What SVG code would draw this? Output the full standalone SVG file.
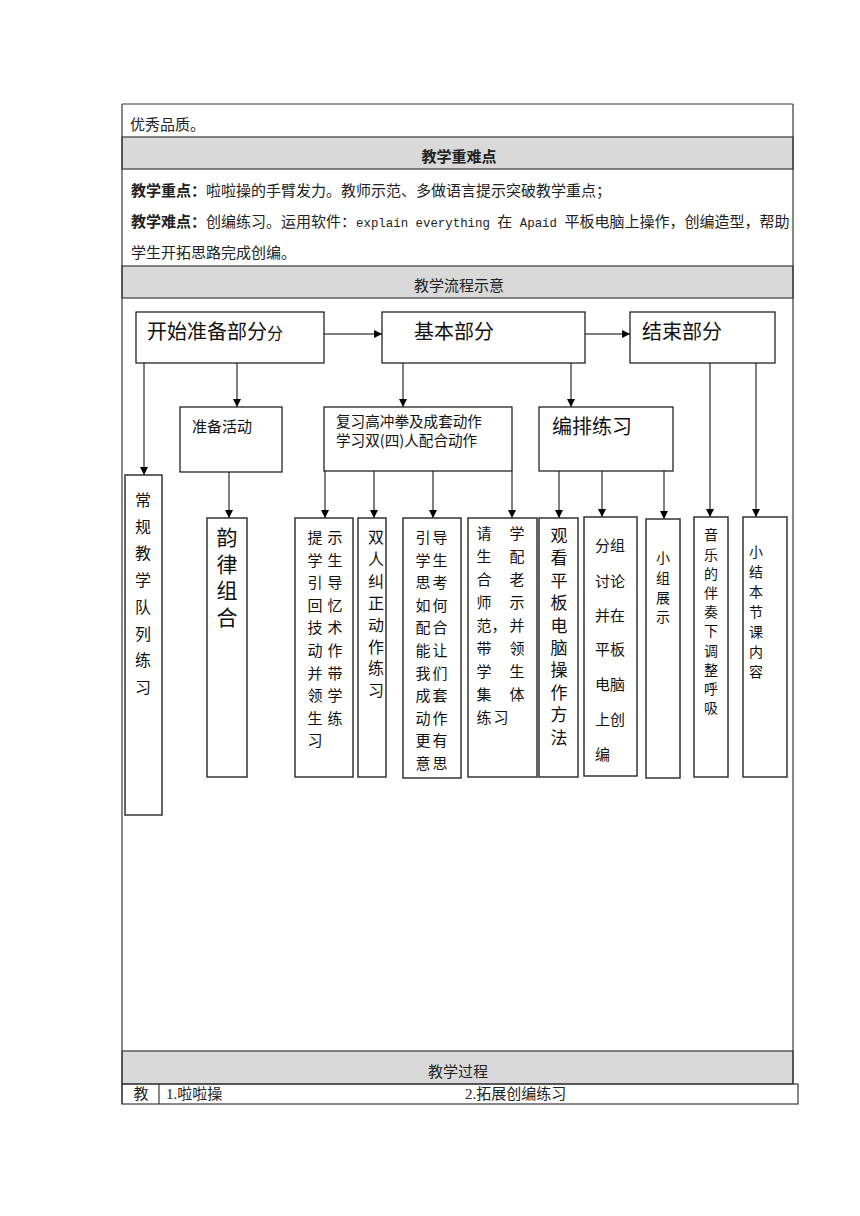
<svg xmlns="http://www.w3.org/2000/svg" width="860" height="1216" viewBox="0 0 860 1216">
<defs>
<marker id="ah" viewBox="0 0 10 10" refX="10" refY="5" markerWidth="8" markerHeight="9" markerUnits="userSpaceOnUse" orient="auto">
<path d="M0,0 L10,5 L0,10 z" fill="#000"/>
</marker>
<style>
.grid{stroke:#3a3a3a;stroke-width:1.2;fill:none}
.band{fill:#d9d9d9;stroke:#3a3a3a;stroke-width:1.2}
.tb{font-family:"Liberation Serif","Noto Sans CJK SC",serif;font-size:15px;fill:#222}
.mono{font-family:"Liberation Mono","Noto Sans CJK SC",monospace;font-size:12.4px}
.cn{font-family:"Noto Sans CJK SC",sans-serif;fill:#111}
.vt{font-family:"Noto Sans CJK SC",sans-serif;fill:#111;writing-mode:vertical-rl}
.box{fill:#fff;stroke:#111;stroke-width:1.2}
.vbox{fill:#fff;stroke:#333;stroke-width:1.5}
.conn{stroke:#000;stroke-width:1;fill:none;marker-end:url(#ah)}
.mid{text-anchor:middle}
</style>
</defs>
<rect width="860" height="1216" fill="#fff"/>

<g id="table">
<rect class="band" x="122" y="137" width="671" height="32"/>
<rect class="band" x="122" y="266" width="671" height="32"/>
<rect class="band" x="122" y="1051" width="671" height="33"/>
<line class="grid" x1="122" y1="104" x2="793" y2="104"/>
<line class="grid" x1="122" y1="104" x2="122" y2="1104"/>
<line class="grid" x1="793" y1="104" x2="793" y2="1084"/>
<rect class="grid" x="122" y="1084" width="676" height="20"/>
<line class="grid" x1="159" y1="1084" x2="159" y2="1104"/>
<text class="tb" x="130" y="130">优秀品质。</text>
<text class="tb mid" x="459" y="162" font-weight="bold">教学重难点</text>
<text class="tb" x="131" y="196"><tspan font-weight="bold">教学重点：</tspan>啦啦操的手臂发力。教师示范、多做语言提示突破教学重点；</text>
<text class="tb" x="131" y="227"><tspan font-weight="bold">教学难点：</tspan>创编练习。运用软件：<tspan class="mono">explain everything </tspan>在<tspan class="mono"> Apaid </tspan>平板电脑上操作，创编造型，帮助</text>
<text class="tb" x="131" y="258">学生开拓思路完成创编。</text>
<text class="tb mid" x="459" y="291">教学流程示意</text>
<text class="tb mid" x="458" y="1077">教学过程</text>
<text class="tb mid" x="141" y="1099">教</text>
<text class="tb" x="166" y="1099">1.啦啦操</text>
<text class="tb" x="465" y="1099">2.拓展创编练习</text>
</g>

<g id="connectors">
<path class="conn" d="M324,334 H382"/>
<path class="conn" d="M585,334 H630"/>
<path class="conn" d="M144,363 V475"/>
<path class="conn" d="M237,363 V407"/>
<path class="conn" d="M229,472 V518"/>
<path class="conn" d="M403,363 V407"/>
<path class="conn" d="M571,363 V407"/>
<path class="conn" d="M325,471 V518"/>
<path class="conn" d="M374,471 V518"/>
<path class="conn" d="M433,471 V518"/>
<path class="conn" d="M512,471 V518"/>
<path class="conn" d="M559,471 V518"/>
<path class="conn" d="M602,471 V517"/>
<path class="conn" d="M664,471 V519"/>
<path class="conn" d="M710,363 V517"/>
<path class="conn" d="M756,363 V517"/>
</g>

<g id="n-start">
<rect class="box" x="136" y="312" width="188" height="51"/>
<text class="cn" x="147" y="339" font-size="20">开始准备部分<tspan font-size="16">分</tspan></text>
</g>
<g id="n-basic">
<rect class="box" x="382" y="312" width="203" height="51"/>
<text class="cn" x="414" y="339" font-size="20">基本部分</text>
</g>
<g id="n-end">
<rect class="box" x="630" y="312" width="145" height="51"/>
<text class="cn" x="642" y="339" font-size="20">结束部分</text>
</g>
<g id="n-prep">
<rect class="box" x="180" y="407" width="102" height="65"/>
<text class="cn" x="192" y="432" font-size="15">准备活动</text>
</g>
<g id="n-review">
<rect class="box" x="324" y="407" width="188" height="64"/>
<text class="cn" x="336" y="427" font-size="14.6">复习高冲拳及成套动作</text>
<text class="cn" x="336" y="446" font-size="14.6">学习双(四)人配合动作</text>
</g>
<g id="n-arrange">
<rect class="box" x="539" y="407" width="134" height="64"/>
<text class="cn" x="552" y="434" font-size="20">编排练习</text>
</g>

<g id="n-routine">
<rect class="vbox" x="125" y="475" width="37" height="340"/>
<text class="vt" x="143" y="492" font-size="16" letter-spacing="10.7">常规教学队列练习</text>
</g>
<g id="n-rhythm">
<rect class="vbox" x="207" y="518" width="40" height="259"/>
<text class="vt" x="227" y="527" font-size="21" letter-spacing="5.5">韵律组合</text>
</g>
<g id="n-hint">
<rect class="vbox" x="295" y="518" width="58" height="259"/>
<text class="cn mid" font-size="15">
<tspan x="315 335" y="543">提示</tspan><tspan x="315 335" y="566">学生</tspan><tspan x="315 335" y="588">引导</tspan><tspan x="315 335" y="611">回忆</tspan><tspan x="315 335" y="633">技术</tspan><tspan x="315 335" y="656">动作</tspan><tspan x="315 335" y="679">并带</tspan><tspan x="315 335" y="701">领学</tspan><tspan x="315 335" y="724">生练</tspan><tspan x="315" y="746">习</tspan>
</text>
</g>
<g id="n-pair">
<rect class="vbox" x="358" y="518" width="28" height="259"/>
<text class="vt" x="376" y="529" font-size="16" letter-spacing="5.9">双人纠正动作练习</text>
</g>
<g id="n-guide">
<rect class="vbox" x="403" y="518" width="58" height="260"/>
<text class="cn mid" font-size="15">
<tspan x="423 440" y="543">引导</tspan><tspan x="423 440" y="566">学生</tspan><tspan x="423 440" y="588">思考</tspan><tspan x="423 440" y="611">如何</tspan><tspan x="423 440" y="633">配合</tspan><tspan x="423 440" y="656">能让</tspan><tspan x="423 440" y="679">我们</tspan><tspan x="423 440" y="701">成套</tspan><tspan x="423 440" y="724">动作</tspan><tspan x="423 440" y="746">更有</tspan><tspan x="423 440" y="769">意思</tspan>
</text>
</g>
<g id="n-invite">
<rect class="vbox" x="468" y="518" width="69" height="259"/>
<text class="cn mid" font-size="15">
<tspan x="484 517" y="539">请学</tspan><tspan x="484 517" y="562">生配</tspan><tspan x="484 517" y="585">合老</tspan><tspan x="484 517" y="608">师示</tspan><tspan x="484 499 517" y="631">范，并</tspan><tspan x="484 517" y="654">带领</tspan><tspan x="484 517" y="677">学生</tspan><tspan x="484 517" y="700">集体</tspan><tspan x="484 501" y="723">练习</tspan>
</text>
</g>
<g id="n-watch">
<rect class="vbox" x="539" y="518" width="39" height="259"/>
<text class="vt" x="559" y="527" font-size="17" letter-spacing="5.4">观看平板电脑操作方法</text>
</g>
<g id="n-discuss">
<rect class="vbox" x="584" y="517" width="53" height="259"/>
<text class="cn" font-size="15">
<tspan x="595" y="551">分组</tspan><tspan x="595" y="587">讨论</tspan><tspan x="595" y="621">并在</tspan><tspan x="595" y="655">平板</tspan><tspan x="595" y="690">电脑</tspan><tspan x="595" y="725">上创</tspan><tspan x="595" y="760">编</tspan>
</text>
</g>
<g id="n-show">
<rect class="vbox" x="646" y="519" width="34" height="259"/>
<text class="vt" x="663" y="551" font-size="14" letter-spacing="5.7">小组展示</text>
</g>
<g id="n-music">
<rect class="vbox" x="694" y="517" width="34" height="260"/>
<text class="vt" x="711" y="528" font-size="14" letter-spacing="5.2">音乐的伴奏下调整呼吸</text>
</g>
<g id="n-summary">
<rect class="vbox" x="743" y="517" width="44" height="260"/>
<text class="vt" x="756" y="545" font-size="14" letter-spacing="6">小结本节课内容</text>
</g>
</svg>
